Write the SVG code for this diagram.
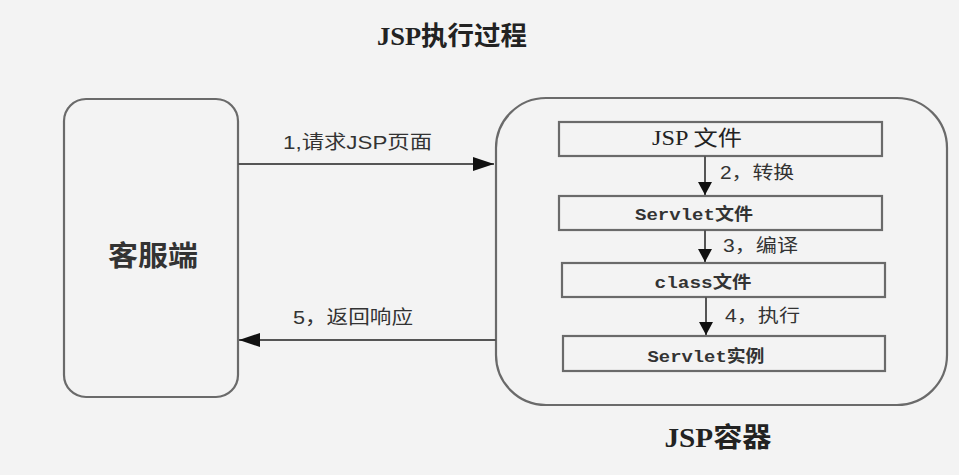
<svg xmlns="http://www.w3.org/2000/svg" width="959" height="475" viewBox="0 0 959 475">
<defs>
<style>
.box{fill:none;stroke:#6a6a6a;stroke-width:2.2}
.ln{stroke:#555;stroke-width:2;fill:none}
.serif{font-family:"Liberation Serif","Noto Sans CJK SC",serif;fill:#222}
.mono{font-family:"Liberation Mono","Noto Sans CJK SC",monospace;fill:#333;font-weight:bold}
.cjk{font-family:"Liberation Sans","Noto Sans CJK SC",sans-serif;fill:#333}
</style>
<marker id="ah" markerUnits="userSpaceOnUse" markerWidth="22" markerHeight="14" refX="21" refY="7" orient="auto">
<path d="M0,0 L21,7 L0,14 Z" fill="#111"/>
</marker>
<marker id="av" markerUnits="userSpaceOnUse" markerWidth="14" markerHeight="14" refX="13" refY="7" orient="auto">
<path d="M0,0 L13,7 L0,14 Z" fill="#111"/>
</marker>
</defs>
<rect width="959" height="475" fill="#f3f3f3"/>
<text class="serif" x="452" y="45" font-size="26" font-weight="bold" text-anchor="middle" textLength="150" lengthAdjust="spacingAndGlyphs">JSP执行过程</text>
<g id="client">
<rect class="box" x="64" y="99" width="174" height="298" rx="22"/>
<text class="cjk" x="153" y="266" font-size="28" font-weight="bold" text-anchor="middle" textLength="90" lengthAdjust="spacingAndGlyphs">客服端</text>
</g>
<g id="container">
<rect class="box" x="496" y="98" width="451" height="307" rx="50"/>
<text class="serif" x="718" y="447" font-size="27" font-weight="bold" text-anchor="middle" textLength="107" lengthAdjust="spacingAndGlyphs">JSP容器</text>
</g>
<g id="jspfile">
<rect class="box" x="559" y="122" width="323" height="34"/>
<text class="serif" x="697" y="145" font-size="21" text-anchor="middle" textLength="90" lengthAdjust="spacingAndGlyphs">JSP 文件</text>
</g>
<g id="servletfile">
<rect class="box" x="559" y="196" width="323" height="34"/>
<text class="mono" x="694" y="220" font-size="17" text-anchor="middle" textLength="118" lengthAdjust="spacingAndGlyphs">Servlet文件</text>
</g>
<g id="classfile">
<rect class="box" x="562" y="263" width="323" height="34"/>
<text class="mono" x="703" y="288" font-size="17" text-anchor="middle" textLength="97" lengthAdjust="spacingAndGlyphs">class文件</text>
</g>
<g id="servletinst">
<rect class="box" x="563" y="336" width="322" height="35"/>
<text class="mono" x="706" y="362" font-size="17" text-anchor="middle" textLength="117" lengthAdjust="spacingAndGlyphs">Servlet实例</text>
</g>
<g id="connectors">
<line class="ln" x1="238" y1="164" x2="494" y2="164" marker-end="url(#ah)"/>
<line class="ln" x1="496" y1="340" x2="239" y2="340" marker-end="url(#ah)"/>
<line class="ln" x1="705" y1="156" x2="705" y2="195" marker-end="url(#av)"/>
<line class="ln" x1="705" y1="230" x2="705" y2="262" marker-end="url(#av)"/>
<line class="ln" x1="706" y1="297" x2="706" y2="335" marker-end="url(#av)"/>
<text class="cjk" x="283" y="149" font-size="19" textLength="149" lengthAdjust="spacingAndGlyphs">1,请求JSP页面</text>
<text class="cjk" x="293" y="324" font-size="19" textLength="120" lengthAdjust="spacingAndGlyphs">5，返回响应</text>
<text class="cjk" x="720" y="179" font-size="18" textLength="74" lengthAdjust="spacingAndGlyphs">2，转换</text>
<text class="cjk" x="723" y="252" font-size="18" textLength="75" lengthAdjust="spacingAndGlyphs">3，编译</text>
<text class="cjk" x="725" y="322" font-size="18" textLength="75" lengthAdjust="spacingAndGlyphs">4，执行</text>
</g>
</svg>
